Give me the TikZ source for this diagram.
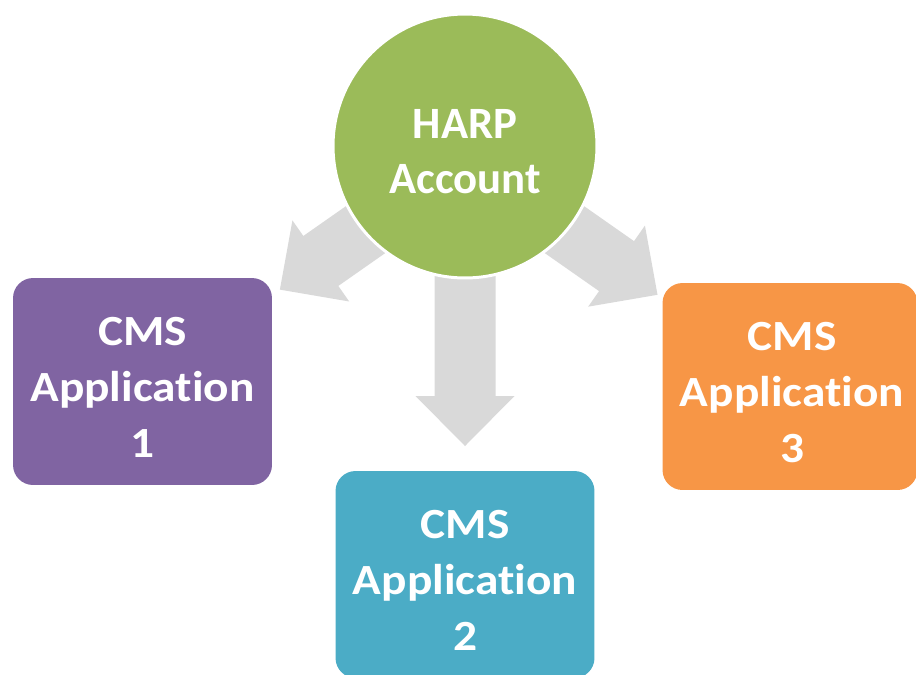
\documentclass[tikz,border=0pt]{standalone}
\usepackage{fontspec}
\setmainfont[Ligatures=NoCommon]{Carlito}
\newfontfamily\appfont[Ligatures=NoCommon,FakeStretch=1.1]{Carlito}
\usepackage{tikz}

\definecolor{harpgreen}{HTML}{9BBB59}
\definecolor{apppurple}{HTML}{8064A2}
\definecolor{appteal}{HTML}{4BACC6}
\definecolor{apporange}{HTML}{F79646}
\definecolor{arrowgrey}{HTML}{D9D9D9}

\begin{document}
\begin{tikzpicture}[x=0.02cm,y=-0.02cm,
  hub/.style={circle,draw=white,line width=1.7pt,fill=harpgreen,minimum size=5.28cm},
  hubtext/.style={text=white,align=center,font=\bfseries\fontsize{25.5}{31}\selectfont},
  app/.style={rectangle,rounded corners=0.4cm,minimum width=5.18cm,minimum height=4.14cm},
  apptext/.style={text=white,align=center,font=\appfont\bfseries\fontsize{24.5}{32}\selectfont}]
%\draw (0,0) grid (916,674);
\clip (0,0) rectangle (916,674);

% grey block arrows, all pointing away from the circle
\foreach \ang/\len in {215/176,-90/236,-35/185}
  \fill [arrowgrey,shift={(465,160)},rotate=\ang] (0,-30.5) -- (\len,-30.5) -- (\len,-49.5) -- (\len+50,0) -- (\len,49.5) -- (\len,30.5) -- (0,30.5) -- cycle;

\node [hub] (harp) at (465,146) {};
\node [hubtext] (harplabel) at (465,151.5) {HARP\\Account};

\node [app,fill=apppurple] (app1) at (142.5,381.5) {};
\node [app,fill=appteal] (app2) at (465,574.5) {};
\node [app,fill=apporange,minimum width=5.1cm] (app3) at (790,386.5) {};

\node [apptext] (app1label) at (142.5,387.5) {CMS\\Application\\1};
\node [apptext] (app2label) at (465,580.5) {CMS\\Application\\2};
\node [apptext] (app3label) at (792,392.5) {CMS\\Application\\3};
\end{tikzpicture}
\end{document}
